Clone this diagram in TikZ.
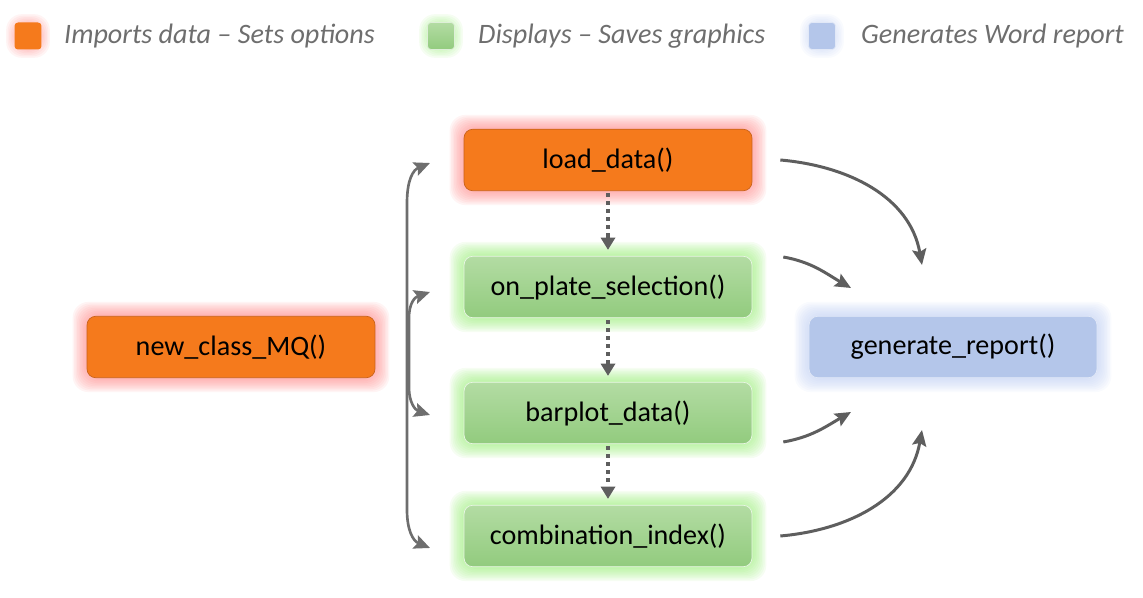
\documentclass[tikz,border=0pt]{standalone}
\usepackage{fontspec}
\setmainfont{Carlito}
\usetikzlibrary{arrows.meta, calc, positioning, backgrounds}
\definecolor{mqOrange}{HTML}{F57A1C}
\definecolor{mqOrangeLine}{HTML}{C8631A}
\definecolor{mqRed}{HTML}{FF7F7F}
\definecolor{mqGreenTop}{HTML}{B3DCA3}
\definecolor{mqGreenBot}{HTML}{92CB7E}
\definecolor{mqLime}{HTML}{92EC6E}
\definecolor{mqBlue}{HTML}{B4C6EA}
\definecolor{mqSky}{HTML}{BACBF2}
\definecolor{mqGray}{HTML}{5E5E5E}
\tikzset{
    funcBox/.style={rectangle, rounded corners=5pt, minimum width=5.76cm, minimum height=1.23cm, font=\fontsize{16}{19}\selectfont, text=black},
    funcOrange/.style={funcBox, fill=mqOrange, draw=mqOrangeLine, thin},
    funcGreen/.style={funcBox, top color=mqGreenTop, bottom color=mqGreenBot, draw=white!80!mqGreenBot, thin},
    funcBlue/.style={funcBox, fill=mqBlue, draw=white!60!mqBlue, thin},
    swatch/.style={rectangle, rounded corners=2pt, minimum size=0.54cm, inner sep=0pt},
    legendText/.style={anchor=west, font=\fontsize{16}{19}\selectfont\itshape, text=mqGray!90},
    callEdge/.style={-{Stealth[length=9pt, width=8pt, inset=1.5pt]}, mqGray, line width=1.7pt},
    callBoth/.style={{Stealth[length=9pt, width=8pt, inset=1.5pt]}-{Stealth[length=9pt, width=8pt, inset=1.5pt]}, mqGray!90, line width=1.5pt},
    seqEdge/.style={-{Triangle[length=7pt, width=8pt]}, mqGray, line width=2.3pt, dash pattern=on 2.3pt off 2.3pt},
}
\newcommand{\drawGlow}[3][0.3]{
    \begin{pgfonlayer}{background}
    \foreach \r in {0.01,0.04,...,#1}{
        \fill[#3, opacity=0.085, rounded corners=9pt] ($(#2.south west)+(-\r cm,-\r cm)$) rectangle ($(#2.north east)+(\r cm,\r cm)$);
    }
    \end{pgfonlayer}
}

\begin{document}
\begin{tikzpicture}[x=0.02cm, y=0.02cm]
        \useasboundingbox (0,0) rectangle (1143,598);

        % legend
        \node[swatch, fill=mqOrange] (keyA) at (28,562) {};
        \node[swatch, top color=mqGreenTop, bottom color=mqGreenBot, draw=white!70!mqGreenBot] (keyB) at (441,562) {};
        \node[swatch, fill=mqBlue, draw=white!60!mqBlue] (keyC) at (822,562) {};
        \node[legendText] at (58,562) {Imports data -- Sets options};
        \node[legendText] at (472,562) {Displays -- Saves graphics};
        \node[legendText] at (855,562) {Generates Word report};
        \drawGlow[0.16]{keyA}{mqRed}
        \drawGlow[0.16]{keyB}{mqLime}
        \drawGlow[0.16]{keyC}{mqSky}

        % functions
        \node[funcOrange] (newMQ) at (231,251) {new\_class\_MQ()};
        \node[funcOrange] (load) at (608,438) {load\_data()};
        \node[funcGreen] (plate) at (608,311) {on\_plate\_selection()};
        \node[funcGreen] (barplot) at (608,185) {barplot\_data()};
        \node[funcGreen] (combo) at (608,62) {combination\_index()};
        \node[funcBlue] (report) at (953,251) {generate\_report()};

        \drawGlow{newMQ}{mqRed}
        \drawGlow{load}{mqRed}
        \drawGlow{plate}{mqLime}
        \drawGlow{barplot}{mqLime}
        \drawGlow{combo}{mqLime}
        \drawGlow{report}{mqSky}

        % sequence
        \draw[seqEdge] ([yshift=-0.04cm]load.south) -- ([yshift=0.12cm]plate.north);
        \draw[seqEdge] ([yshift=-0.04cm]plate.south) -- ([yshift=0.12cm]barplot.north);
        \draw[seqEdge] ([yshift=-0.04cm]barplot.south) -- ([yshift=0.12cm]combo.north);

        % calls into the report
        \coordinate (inA) at (922,333);
        \coordinate (inB) at (851,310);
        \coordinate (inC) at (851,186);
        \coordinate (inD) at (922,168);
        \draw[callEdge] ([xshift=0.56cm]load.east) to[out=-5, in=100] (inA);
        \draw[callEdge] ([xshift=0.62cm, yshift=0.6cm]plate.east) to[out=-10, in=150] (inB);
        \draw[callEdge] ([xshift=0.62cm, yshift=-0.58cm]barplot.east) to[out=10, in=-150] (inC);
        \draw[callEdge] ([xshift=0.56cm]combo.east) to[out=5, in=-100] (inD);

        % brackets
        \coordinate (topA) at (430,435);
        \coordinate (botA) at (430,50);
        \coordinate (topB) at (430,306);
        \coordinate (botB) at (430,183);
        \draw[callBoth] (topA) .. controls (413,428) and (407,418) .. (407,395) -- (407,88) .. controls (407,68) and (413,57) .. (botA);
        \draw[callBoth] (topB) .. controls (415,301) and (409,295) .. (409,280) -- (409,210) .. controls (409,196) and (415,188) .. (botB);

    \end{tikzpicture}
\end{document}
